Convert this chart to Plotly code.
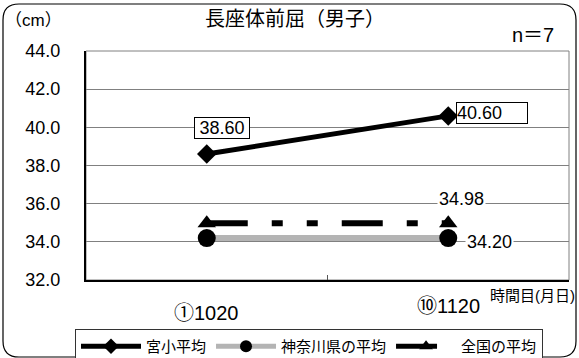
import plotly.graph_objects as go

# データ
categories = ['①1020', '⑩1120']
miya_avg = [38.60, 40.60]       # 宮小平均
kanagawa_avg = [34.20, 34.20]   # 神奈川県の平均
zenkoku_avg = [34.98, 34.98]    # 全国の平均
series_names = ['宮小平均', '神奈川県の平均', '全国の平均']

W, H = 579, 358
L, R, T, B = 86, 10, 51, 78
FONT = 'Liberation Sans, Arial, Noto Sans CJK JP'


def px(x):
    return (x - L) / (W - L - R)


def py(y):
    return (H - B - y) / (H - T - B)


fig = go.Figure()

fig.add_trace(go.Scatter(
    x=categories, y=miya_avg, name=series_names[0],
    mode='lines+markers',
    line=dict(color='black', width=5),
    marker=dict(symbol='diamond', size=15, color='black'),
))
fig.add_trace(go.Scatter(
    x=categories, y=kanagawa_avg, name=series_names[1],
    mode='lines+markers',
    line=dict(color='#b4b4b4', width=6),
    marker=dict(symbol='circle', size=18, color='black'),
))
fig.add_trace(go.Scatter(
    x=categories, y=zenkoku_avg, name=series_names[2],
    mode='lines+markers',
    line=dict(color='black', width=6, dash='41px,24px,11px,24px,11px,24px'),
    marker=dict(symbol='triangle-up', size=16, color='black'),
))

# データラベル
label_font = dict(family=FONT, size=18, color='black')
fig.add_annotation(x=categories[0], y=miya_avg[0], text='%.2f' % miya_avg[0],
                   xshift=15, yshift=26, showarrow=False, font=label_font,
                   width=54, bgcolor='white', bordercolor='black', borderwidth=1, borderpad=0)
fig.add_annotation(x=categories[1], y=miya_avg[1], text='%.2f' % miya_avg[1],
                   xshift=44, yshift=3, showarrow=False, font=label_font,
                   width=70, align='left',
                   bgcolor='white', bordercolor='black', borderwidth=1, borderpad=0)
fig.add_annotation(x=categories[1], y=zenkoku_avg[1], text='%.2f' % zenkoku_avg[1],
                   xshift=13, yshift=24, showarrow=False, font=label_font,
                   bgcolor='white')
fig.add_annotation(x=categories[1], y=kanagawa_avg[1], text='%.2f' % kanagawa_avg[1],
                   xshift=41, yshift=-4, showarrow=False, font=label_font,
                   bgcolor='white')

# x軸ラベル
fig.add_annotation(x=categories[0], y=py(313), yref='paper', yanchor='middle',
                   text=categories[0], showarrow=False,
                   font=dict(family=FONT, size=20, color='black'))
fig.add_annotation(x=categories[1], y=py(306), yref='paper', yanchor='middle',
                   text=categories[1], showarrow=False,
                   font=dict(family=FONT, size=20, color='black'))

# その他のテキスト
fig.add_annotation(x=px(295), y=py(19), xref='paper', yref='paper',
                   xanchor='center', yanchor='middle',
                   text='長座体前屈（男子）', showarrow=False,
                   font=dict(family=FONT, size=20, color='black'))
fig.add_annotation(x=px(3), y=py(21), xref='paper', yref='paper',
                   xanchor='left', yanchor='middle',
                   text='（cm）', showarrow=False,
                   font=dict(family=FONT, size=17, color='black'))
fig.add_annotation(x=px(556), y=py(35), xref='paper', yref='paper',
                   xanchor='right', yanchor='middle',
                   text='n＝7', showarrow=False,
                   font=dict(family=FONT, size=20, color='black'))
fig.add_annotation(x=px(577), y=py(295), xref='paper', yref='paper',
                   xanchor='right', yanchor='middle',
                   text='時間目(月日)', showarrow=False,
                   font=dict(family=FONT, size=15, color='black'))

# 外枠（角丸）
x0, y0, x1, y1, r = 3, 4, 576, 357, 16
path = (f'M{px(x0 + r)},{py(y0)} L{px(x1 - r)},{py(y0)} '
        f'Q{px(x1)},{py(y0)} {px(x1)},{py(y0 + r)} '
        f'L{px(x1)},{py(y1 - r)} Q{px(x1)},{py(y1)} {px(x1 - r)},{py(y1)} '
        f'L{px(x0 + r)},{py(y1)} Q{px(x0)},{py(y1)} {px(x0)},{py(y1 - r)} '
        f'L{px(x0)},{py(y0 + r)} Q{px(x0)},{py(y0)} {px(x0 + r)},{py(y0)} Z')
fig.add_shape(type='path', path=path, xref='paper', yref='paper',
              line=dict(color='black', width=1.2), layer='below')
# プロットエリア枠
fig.add_shape(type='rect', x0=0, y0=0, x1=1, y1=1, xref='paper', yref='paper',
              line=dict(color='#808080', width=1), layer='below')

fig.update_layout(
    width=W, height=H,
    margin=dict(l=L, r=R, t=T, b=B, autoexpand=False),
    paper_bgcolor='white', plot_bgcolor='white',
    font=dict(family=FONT, color='black'),
    showlegend=True,
    legend=dict(
        orientation='h', x=px(75), y=py(329), xanchor='left', yanchor='top',
        bordercolor='#333333', borderwidth=1, bgcolor='white',
        font=dict(family=FONT, size=15, color='black'),
        itemwidth=60, itemsizing='constant', tracegroupgap=0,
    ),
    xaxis=dict(
        type='category', range=[-0.5, 1.5], showgrid=False,
        showticklabels=False, ticks='inside', ticklen=5, tickson='boundaries',
        tickcolor='#555555', showline=True, linecolor='black', linewidth=2,
        zeroline=False,
    ),
    yaxis=dict(
        range=[32, 44], dtick=2, tickformat='.1f',
        showgrid=True, gridcolor='#808080', gridwidth=1,
        showline=True, linecolor='black', linewidth=2, zeroline=False,
        ticks='', ticklabelstandoff=20,
        tickfont=dict(family=FONT, size=18, color='black'),
    ),
)

fig.write_html('out.html', config={'displayModeBar': False},
               post_script="document.body.style.margin='0';")
